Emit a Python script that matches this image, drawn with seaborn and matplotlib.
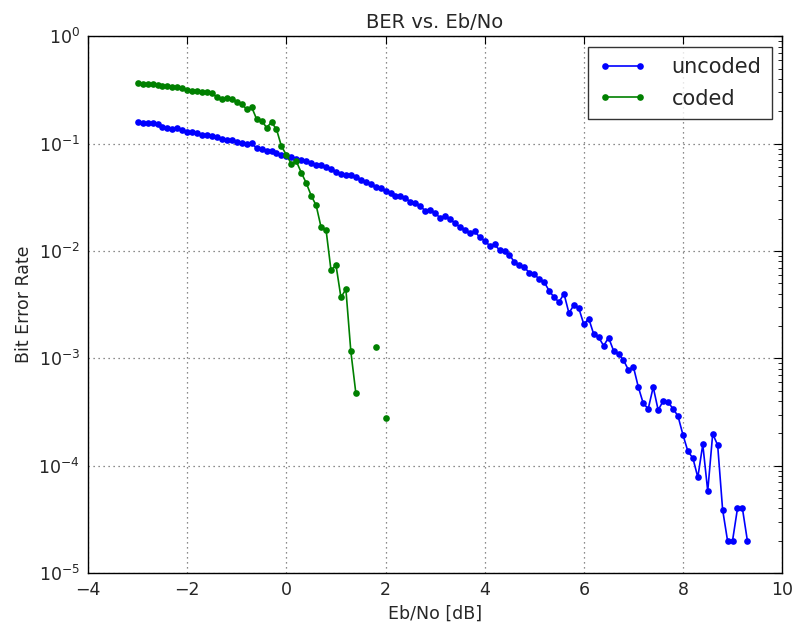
import numpy as np
import pandas as pd
import matplotlib
matplotlib.use("Agg")
import matplotlib.pyplot as plt
import seaborn as sns
from matplotlib.lines import Line2D

# ---- data ----
uncoded_x = [round(-3.0 + 0.1 * i, 1) for i in range(124)]  # -3.0 ... 9.3
uncoded_ber = [
    0.158, 0.155, 0.155, 0.157, 0.152, 0.144, 0.139, 0.136, 0.140, 0.133,
    0.129, 0.127, 0.125, 0.120, 0.121, 0.118, 0.115, 0.110, 0.108, 0.108,
    0.104, 0.101, 0.0994, 0.101, 0.0906, 0.0887, 0.0861, 0.0857, 0.0824, 0.0785,
    0.0768, 0.0746, 0.0715, 0.0705, 0.0695, 0.0656, 0.0633, 0.0633, 0.0603, 0.0585,
    0.0548, 0.0522, 0.0511, 0.0511, 0.0486, 0.0459, 0.0437, 0.0418, 0.0397, 0.0384,
    0.0365, 0.0345, 0.0326, 0.0328, 0.0310, 0.0288, 0.0282, 0.0263, 0.0236, 0.0241,
    0.0225, 0.0204, 0.0212, 0.0199, 0.0181, 0.0168, 0.0158, 0.0146, 0.0153, 0.0134,
    0.0125, 0.0112, 0.0115, 0.0102, 0.0100, 0.00925, 0.00785, 0.00745, 0.00705, 0.00628,
    0.00611, 0.00545, 0.00514, 0.00427, 0.00370, 0.00335, 0.00400, 0.00264, 0.00314, 0.00292,
    0.00208, 0.00234, 0.00168, 0.00157, 0.00131, 0.00156, 0.00118, 0.00110, 0.000964, 0.000780,
    0.000835, 0.000540, 0.000380, 0.000340, 0.000540, 0.000330, 0.000400, 0.000390, 0.000340, 0.000290,
    0.000194, 0.000136, 0.000118, 0.000078, 0.000158, 0.000058, 0.000198, 0.000156, 0.000039, 0.000020,
    0.000020, 0.000040, 0.000040, 0.000020,
]

coded_x = [round(-3.0 + 0.1 * i, 1) for i in range(51)]  # -3.0 ... 2.0
coded_ber = [
    0.370, 0.360, 0.360, 0.360, 0.352, 0.345, 0.345, 0.340, 0.335, 0.328,
    0.316, 0.312, 0.312, 0.305, 0.303, 0.295, 0.270, 0.259, 0.267, 0.259,
    0.246, 0.233, 0.209, 0.218, 0.169, 0.164, 0.141, 0.158, 0.136, 0.0945,
    0.0785, 0.0647, 0.0685, 0.0537, 0.0430, 0.0328, 0.0266, 0.0166, 0.0157, 0.0066,
    0.00741, 0.00370, 0.00440, 0.00116, 0.000478, np.nan, np.nan, np.nan, 0.00128, np.nan,
    0.000276,
]

series_names = ["uncoded", "coded"]
series_colors = ["#0000ff", "#008000"]

# ---- build a long table, splitting each series at missing values ----
frames = []
for name, xs, ys in [("uncoded", uncoded_x, uncoded_ber), ("coded", coded_x, coded_ber)]:
    d = pd.DataFrame({"x": xs, "ber": ys})
    d["series"] = name
    d["seg"] = name + "_" + d["ber"].isna().cumsum().astype(str)
    frames.append(d.dropna())
df = pd.concat(frames, ignore_index=True)

# ---- styling (classic matplotlib look) ----
sns.set_style("white")
plt.rcParams["font.family"] = ["DejaVu Sans"]
plt.rcParams["xtick.direction"] = "in"
plt.rcParams["ytick.direction"] = "in"
plt.rcParams["xtick.top"] = True
plt.rcParams["ytick.right"] = True

fig = plt.figure(figsize=(7.94, 6.25), dpi=100)
ax = fig.add_axes([0.111, 0.083, 0.874, 0.859])

palette = dict(zip(series_names, series_colors))
sns.lineplot(
    data=df, x="x", y="ber", hue="series", units="seg", estimator=None,
    palette=palette, hue_order=series_names, sort=False,
    marker="o", markersize=4.8, markeredgewidth=0, linewidth=1.2,
    legend=False, ax=ax,
)

ax.set_yscale("log")
ax.set_xlim(-4, 10)
ax.set_ylim(1e-5, 1)
ax.set_xticks(range(-4, 11, 2))
ax.set_xticklabels(["\u22124", "\u22122", "0", "2", "4", "6", "8", "10"])
ax.grid(True, which="major", linestyle=(0, (1, 3)), color="#666666", linewidth=0.9)

for s in ax.spines.values():
    s.set_color("black")
    s.set_linewidth(1.0)
ax.tick_params(which="major", length=6, width=0.8, labelsize=12.5, color="black", pad=6)
ax.tick_params(which="minor", length=3, width=0.6, color="black")

ax.set_title("BER vs. Eb/No", fontsize=14, pad=6)
ax.set_xlabel("Eb/No [dB]", fontsize=12.5)
ax.set_ylabel("Bit Error Rate", fontsize=12.5)

handles = [
    Line2D([0], [0], color=c, marker="o", markersize=4.8, markeredgewidth=0, linewidth=1.2)
    for c in series_colors
]
leg = ax.legend(handles, series_names, loc="upper right", numpoints=2, fontsize=15,
                fancybox=False, frameon=True, borderaxespad=0.5, handlelength=2.3,
                handletextpad=1.2, borderpad=0.5, labelspacing=0.55)
leg.get_frame().set_edgecolor("black")
leg.get_frame().set_linewidth(1.0)

fig.savefig("out.png", dpi=100)
